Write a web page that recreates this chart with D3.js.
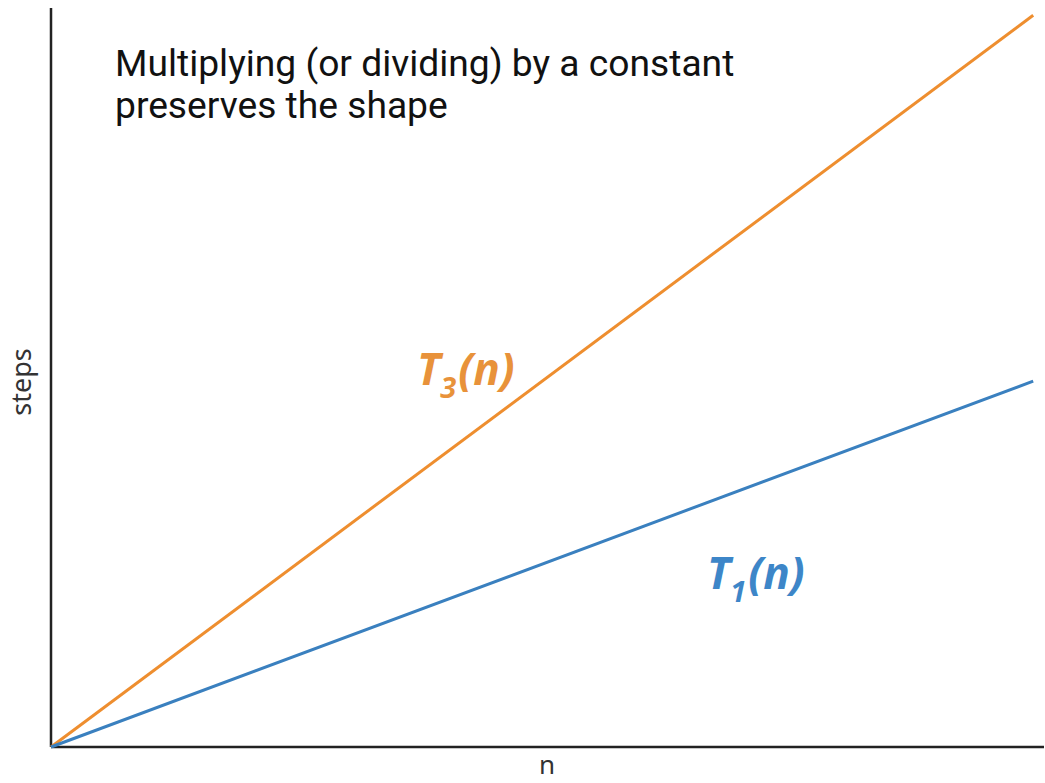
<!DOCTYPE html>
<html>
<head>
<meta charset="utf-8">
<script src="https://cdn.jsdelivr.net/npm/d3@7"></script>
<style>
  html, body { margin: 0; padding: 0; background: #fff; }
  svg { display: block; }
</style>
</head>
<body>
<svg id="chart" width="1045" height="783"></svg>
<script>
// ---- data ----
const nValues = [0, 100];
const t1Values = [0, 100];
const t3Values = [0, 200];
const titleLines = ["Multiplying (or dividing) by a constant", "preserves the shape"];
const xLabel = "n";
const yLabel = "steps";
const seriesNames = ["T3", "T1"];

// ---- layout ----
const x = d3.scaleLinear().domain([0, 101.1]).range([51, 1044]);
const y = d3.scaleLinear().domain([0, 202]).range([747, 8]);

const svg = d3.select("#chart");

// axes
svg.append("line").attr("x1", x(0)).attr("x2", x(0)).attr("y1", y(0)).attr("y2", y(202))
  .attr("stroke", "#222").attr("stroke-width", 2.5);
svg.append("line").attr("x1", x(0)).attr("x2", x(101.1)).attr("y1", y(0)).attr("y2", y(0))
  .attr("stroke", "#222").attr("stroke-width", 2.5);

const line = d3.line().x(d => x(d[0])).y(d => y(d[1]));
const t3 = nValues.map((n, i) => [n, t3Values[i]]);
const t1 = nValues.map((n, i) => [n, t1Values[i]]);

svg.append("path").datum(t3).attr("d", line).attr("fill", "none")
  .attr("stroke", "#ee8e2f").attr("stroke-width", 3);
svg.append("path").datum(t1).attr("d", line).attr("fill", "none")
  .attr("stroke", "#3a80bf").attr("stroke-width", 3);

// title
const title = svg.append("text")
  .attr("font-family", "Roboto").attr("font-size", 37.2).attr("fill", "#111");
titleLines.forEach((t, i) => {
  title.append("tspan").attr("x", 115).attr("y", 76 + i * 42).text(t);
});

// axis labels
svg.append("text").attr("x", 547).attr("y", 774).attr("text-anchor", "middle")
  .attr("font-family", "Noto Sans").attr("font-size", 26).attr("fill", "#333").text(xLabel);
svg.append("text").attr("transform", "translate(31,382) rotate(-90)").attr("text-anchor", "middle")
  .attr("font-family", "Noto Sans").attr("font-size", 27).attr("fill", "#333").text(yLabel);

// series labels
function seriesLabel(xp, yp, sub, color) {
  const t = svg.append("text").attr("x", xp).attr("y", yp)
    .attr("font-family", "Open Sans").attr("font-weight", "bold").attr("font-style", "italic")
    .attr("font-size", 44).attr("fill", color);
  t.append("tspan").text("T");
  t.append("tspan").attr("font-size", 29).attr("dy", 13).text(sub);
  t.append("tspan").attr("dy", -13).attr("dx", 2).text("(n)");
}
seriesLabel(417, 385, seriesNames[0].slice(1), "#e8923a");
seriesLabel(707, 589, seriesNames[1].slice(1), "#3d86c8");
</script>
</body>
</html>
